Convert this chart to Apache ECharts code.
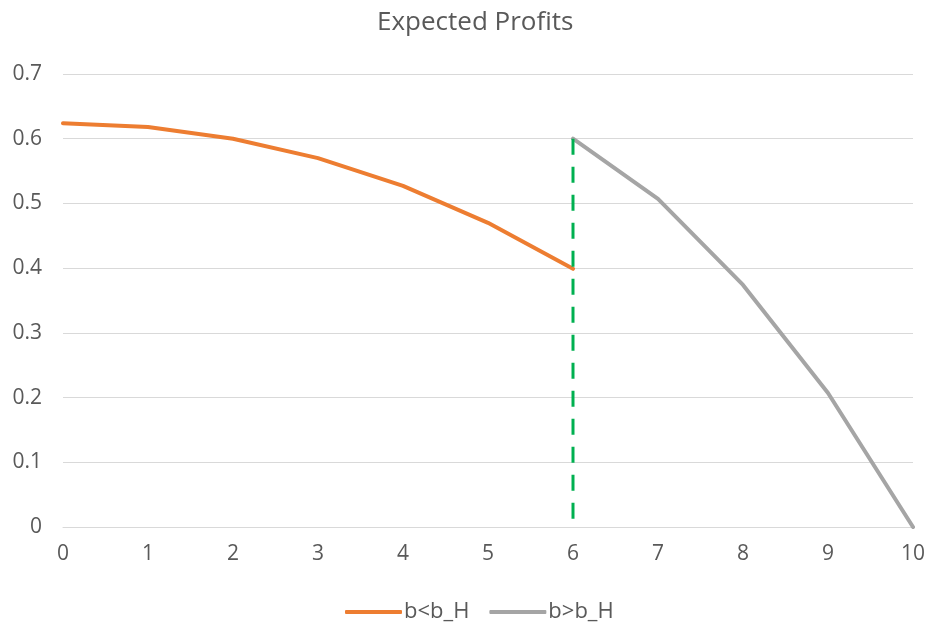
<!DOCTYPE html>
<html>
<head>
<meta charset="utf-8">
<script src="https://cdn.jsdelivr.net/npm/echarts@6/dist/echarts.min.js"></script>
<style>
  html, body { margin: 0; padding: 0; background: #fff; }
  #chart { width: 930px; height: 626px; }
</style>
</head>
<body>
<div id="chart"></div>
<script>
// Expected profits for b below and above b_H
const lowB = [0, 1, 2, 3, 4, 5, 6];
const lowProfit = [0.624, 0.618, 0.600, 0.570, 0.527, 0.470, 0.399];
const highB = [6, 7, 8, 9, 10];
const highProfit = [0.600, 0.507, 0.374, 0.207, 0.0];
const thresholdB = 6;
const thresholdTop = 0.6;
const seriesNames = ['b<b_H', 'b>b_H'];

const textColor = '#595959';
const font = '"Open Sans", "Noto Sans", sans-serif';

const zip = (xs, ys) => xs.map((x, i) => [x, ys[i]]);

const chart = echarts.init(document.getElementById('chart'), null, { renderer: 'canvas' });
chart.setOption({
  animation: false,
  backgroundColor: '#fff',
  title: {
    text: 'Expected Profits',
    left: 372,
    top: 5,
    textStyle: { color: textColor, fontFamily: font, fontSize: 26, fontWeight: 'normal' }
  },
  legend: {
    data: seriesNames,
    top: 596,
    left: 340,
    itemWidth: 57,
    itemHeight: 4,
    itemGap: 20,
    icon: 'roundRect',
    textStyle: { color: textColor, fontFamily: font, fontSize: 22, padding: [0, 0, 0, -3] }
  },
  grid: { left: 63, right: 17, top: 74, bottom: 99, containLabel: false },
  xAxis: {
    type: 'value',
    min: 0,
    max: 10,
    interval: 1,
    axisLine: { show: true, lineStyle: { color: '#d9d9d9', width: 1 } },
    axisTick: { show: false },
    splitLine: { show: false },
    axisLabel: { color: textColor, fontFamily: font, fontSize: 21, margin: 17 }
  },
  yAxis: {
    type: 'value',
    min: 0,
    max: 0.7,
    interval: 0.1,
    axisLine: { show: false },
    axisTick: { show: false },
    splitLine: { lineStyle: { color: '#d9d9d9', width: 1 } },
    axisLabel: { color: textColor, fontFamily: font, fontSize: 21, margin: 21,
      formatter: v => String(Math.round(v * 10) / 10) }
  },
  series: [
    {
      name: seriesNames[0],
      type: 'line',
      data: zip(lowB, lowProfit),
      symbol: 'none',
      color: '#ED7D31',
      lineStyle: { width: 4, cap: 'round', join: 'round' },
      z: 3
    },
    {
      name: seriesNames[1],
      type: 'line',
      data: zip(highB, highProfit),
      symbol: 'none',
      color: '#A5A5A5',
      lineStyle: { width: 4, cap: 'round', join: 'round' },
      z: 3
    },
    {
      name: 'threshold',
      type: 'line',
      data: [[thresholdB, thresholdTop], [thresholdB, 0]],
      symbol: 'none',
      color: '#00B050',
      lineStyle: { width: 3, type: [16, 12] },
      z: 4
    }
  ]
});
</script>
</body>
</html>
